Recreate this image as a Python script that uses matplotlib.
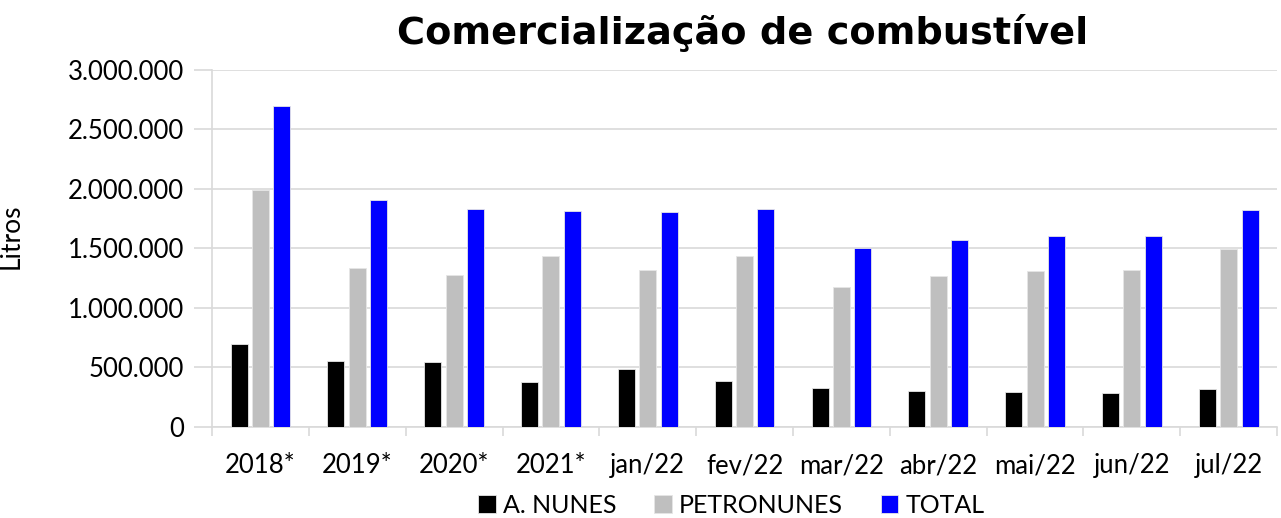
import matplotlib
matplotlib.use("Agg")
import matplotlib.pyplot as plt
import numpy as np
from matplotlib.ticker import FuncFormatter, MultipleLocator

categories = ["2018*", "2019*", "2020*", "2021*", "jan/22", "fev/22", "mar/22",
              "abr/22", "mai/22", "jun/22", "jul/22"]
a_nunes = [698000, 558000, 544000, 376000, 485000, 384000, 325000, 306000, 292000, 283000, 322000]
petronunes = [1995000, 1340000, 1281000, 1433000, 1315000, 1441000, 1175000, 1268000, 1307000, 1315000, 1497000]
total = [2695000, 1904000, 1831000, 1814000, 1806000, 1831000, 1506000, 1573000, 1601000, 1601000, 1820000]
series_names = ["A. NUNES", "PETRONUNES", "TOTAL"]
colors = ["#000000", "#bfbfbf", "#0000ff"]

plt.rcParams['font.family'] = ['Lato', 'DejaVu Sans']

fig = plt.figure(figsize=(12.81, 5.18), dpi=100)
ax = fig.add_axes([0.1655, 0.1757, 0.8315, 0.6892])

x = np.arange(len(categories))
w = 0.175
off = 0.22
for i, (vals, name, c) in enumerate(zip([a_nunes, petronunes, total], series_names, colors)):
    ax.bar(x + (i - 1) * off, vals, width=w, color=c, label=name,
           edgecolor="#e6e6e6", linewidth=0.6, zorder=3)

ax.set_xlim(-0.5, len(categories) - 0.5)
ax.set_ylim(0, 3000000)
ax.yaxis.set_major_locator(MultipleLocator(500000))
ax.yaxis.set_major_formatter(FuncFormatter(lambda v, p: f"{int(v):,}".replace(",", ".")))
ax.grid(axis="y", color="#d9d9d9", linewidth=1.2, zorder=0)
ax.set_axisbelow(True)

ax.set_xticks(x)
ax.set_xticklabels(categories)
ax.set_xticks(np.arange(-0.5, len(categories), 1), minor=True)
ax.tick_params(axis="x", which="major", length=0, pad=19, labelsize=18.5)
ax.tick_params(axis="x", which="minor", length=6.5, color="#d9d9d9", width=1.2)
ax.tick_params(axis="y", length=13, color="#d9d9d9", width=1.2, labelsize=18.5, pad=7)

for s in ["top", "right"]:
    ax.spines[s].set_visible(False)
for s in ["left", "bottom"]:
    ax.spines[s].set_color("#d9d9d9")
    ax.spines[s].set_linewidth(1.2)

ax.set_ylabel("Litros", fontsize=19)
ax.yaxis.set_label_coords(-0.177, 0.535)
fig.text(0.580, 0.936, "Comercialização de combustível", ha="center", va="center",
         fontsize=27.5, fontweight="bold", family="DejaVu Sans")

fig.legend(loc="center", bbox_to_anchor=(0.571, 0.025), ncol=3, frameon=False,
           fontsize=18, handlelength=0.7, handleheight=0.7, handletextpad=0.3,
           columnspacing=1.5)

fig.savefig("out.png", dpi=100)
